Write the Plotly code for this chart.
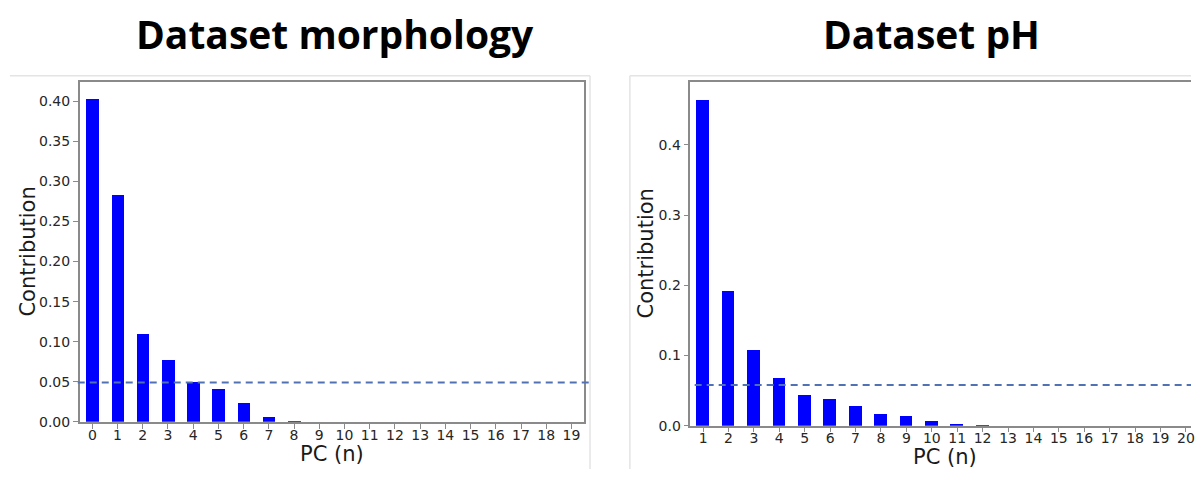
import plotly.graph_objects as go

# Explained-variance contribution per principal component
morph_pc = [str(i) for i in range(0, 20)]
morph_contrib = [0.403, 0.283, 0.110, 0.078, 0.050, 0.041, 0.024, 0.007, 0.002,
                 0, 0, 0, 0, 0, 0, 0, 0, 0, 0, 0]
morph_threshold = 0.049

ph_pc = [str(i) for i in range(1, 21)]
ph_contrib = [0.465, 0.193, 0.109, 0.068, 0.044, 0.038, 0.029, 0.017, 0.0145,
              0.0075, 0.0037, 0.0014, 0, 0, 0, 0, 0, 0, 0, 0]
ph_threshold = 0.058

W, H = 1195, 477
BAR = "#0000ff"
SPINE = "#8a8a8a"
TICKFONT = dict(family="DejaVu Sans", size=14, color="#262626")
LABELFONT = dict(family="DejaVu Sans", size=21, color="#1a1a1a")
TITLEFONT = dict(family="Open Sans", size=39, color="black")
DASH = "#5072b4"


def px(x):
    return x / W


def py(y):
    return 1 - y / H


fig = go.Figure()
fig.add_trace(go.Bar(x=morph_pc, y=morph_contrib, width=0.5, marker_color=BAR,
                     marker_line_width=0, xaxis="x", yaxis="y", showlegend=False))
fig.add_trace(go.Bar(x=ph_pc, y=ph_contrib, width=0.5, marker_color=BAR,
                     marker_line_width=0, xaxis="x2", yaxis="y2", showlegend=False))

common_x = dict(type="category", showgrid=False, zeroline=False, showline=True,
                linecolor=SPINE, linewidth=1.5, ticks="outside", ticklen=5,
                tickcolor=SPINE, tickfont=TICKFONT, mirror=True)
common_y = dict(showgrid=False, zeroline=False, showline=True, linecolor=SPINE,
                linewidth=1.5, ticks="outside", ticklen=5, tickcolor=SPINE,
                tickfont=TICKFONT)

fig.update_layout(
    width=W, height=H,
    margin=dict(l=0, r=0, t=0, b=0),
    paper_bgcolor="white", plot_bgcolor="white",
    xaxis=dict(common_x, domain=[px(80), px(586)], range=[-0.5, 19.5],
               anchor="y", ticklabelstandoff=-5),
    yaxis=dict(common_y, domain=[py(429), py(83)], range=[0, 0.4245],
               tickvals=[0, 0.05, 0.10, 0.15, 0.20, 0.25, 0.30, 0.35, 0.40],
               tickformat=".2f", mirror=True, anchor="x"),
    xaxis2=dict(common_x, domain=[px(692.7), 1], range=[-0.5, 19.2],
                anchor="y2", ticklabelstandoff=-6),
    yaxis2=dict(common_y, domain=[py(433), py(83)], range=[0, 0.490],
                tickvals=[0, 0.1, 0.2, 0.3, 0.4], tickformat=".1f",
                mirror=False, anchor="x2"),
    bargap=0,
)

# Threshold lines
fig.add_shape(type="line", xref="paper", yref="y", x0=px(78), x1=px(592),
              y0=morph_threshold, y1=morph_threshold,
              line=dict(color=DASH, width=2, dash="7px,5px"))
fig.add_shape(type="line", xref="paper", yref="y2", x0=px(697), x1=1,
              y0=ph_threshold, y1=ph_threshold,
              line=dict(color=DASH, width=2, dash="7px,5px"))

# Light panel borders
for x0, y0, x1, y1 in [(10, 77, 592, 77), (592, 77, 592, 477),
                       (632, 77, 1195, 77), (632, 77, 632, 477)]:
    fig.add_shape(type="line", xref="paper", yref="paper",
                  x0=px(x0), y0=py(y0), x1=px(x1), y1=py(y1),
                  line=dict(color="#e4e4e4", width=1.5), layer="below")

annotations = [
    dict(text="<b>Dataset morphology</b>", x=px(336.5), y=py(34), font=TITLEFONT),
    dict(text="<b>Dataset pH</b>", x=px(934.5), y=py(34), font=TITLEFONT),
    dict(text="Contribution", x=px(28), y=py(256), textangle=-90, font=LABELFONT),
    dict(text="Contribution", x=px(648), y=py(258), textangle=-90, font=LABELFONT),
    dict(text="PC (n)", x=px(333), y=py(462), font=LABELFONT),
    dict(text="PC (n)", x=px(948), y=py(465), font=LABELFONT),
]
for a in annotations:
    fig.add_annotation(xref="paper", yref="paper", showarrow=False,
                       xanchor="center", yanchor="middle", **a)

fig.write_html("out.html")
